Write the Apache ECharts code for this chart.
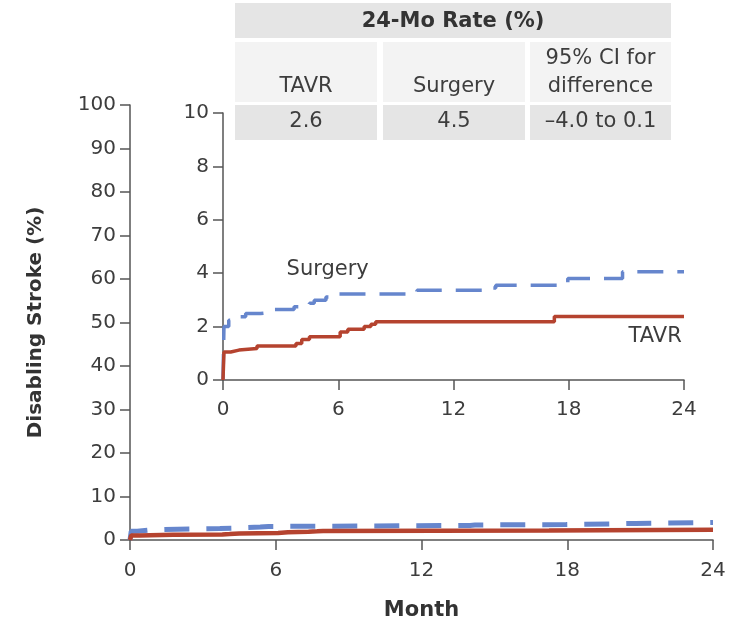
<!DOCTYPE html>
<html>
<head>
<meta charset="utf-8">
<script src="https://cdn.jsdelivr.net/npm/echarts@6/dist/echarts.min.js"></script>
<style>
  html, body { margin: 0; padding: 0; background: #ffffff; }
  #chart { width: 742px; height: 631px; }
</style>
</head>
<body>
<div id="chart"></div>
<script>
// step points (month, cumulative %)
const tavrMonths = [0, 0.05, 0.4, 0.83, 1.77, 3.8, 4.1, 4.5, 6.1, 6.5, 7.35, 7.7, 7.95, 17.25, 24];
const tavrRates = [0, 1.05, 1.12, 1.18, 1.27, 1.37, 1.52, 1.62, 1.8, 1.9, 2.0, 2.09, 2.18, 2.38, 2.38];
const surgeryMonths = [0, 0.05, 0.3, 0.72, 1.18, 1.95, 2.66, 3.7, 4.5, 4.75, 5.36, 5.7, 10.1, 14.0, 14.2, 17.95, 20.8, 24];
const surgeryRates = [0, 2.0, 2.24, 2.37, 2.49, 2.55, 2.64, 2.74, 2.87, 2.99, 3.11, 3.22, 3.36, 3.45, 3.55, 3.8, 4.05, 4.05];

const tableTitle = "24-Mo Rate (%)";
const tableHeaders = ["TAVR", "Surgery", "95% CI for\ndifference"];
const tableValues = ["2.6", "4.5", "\u20134.0 to 0.1"];

const FONT = "DejaVu Sans";
const TXT = "#3d3d3d";
const AXIS = "#555555";
const RED = "#b5432f";
const BLUE = "#6686cd";

const zip = (a, b) => a.map((x, i) => [x, b[i]]);
const tavrData = zip(tavrMonths, tavrRates);
const surgeryData = zip(surgeryMonths, surgeryRates);

let myChart = echarts.init(document.getElementById("chart"));

function axis(extra, margin) {
  return Object.assign({
    type: "value",
    axisLine: { show: true, lineStyle: { color: AXIS, width: 1.5 } },
    axisTick: { show: true, length: 10, lineStyle: { color: AXIS, width: 1.5 } },
    splitLine: { show: false },
    axisLabel: { color: TXT, fontSize: 20, fontFamily: FONT, margin: margin },
  }, extra);
}

// table cells (not data marks)
const colX = [235, 383, 530];
const colW = [142, 142, 141];
let graphics = [
  { type: "rect", shape: { x: 235, y: 3, width: 436, height: 35 }, style: { fill: "#e5e5e5" } },
];
for (let i = 0; i < 3; i++) {
  graphics.push({ type: "rect", shape: { x: colX[i], y: 42, width: colW[i], height: 60 }, style: { fill: "#f3f3f3" } });
  graphics.push({ type: "rect", shape: { x: colX[i], y: 105, width: colW[i], height: 35 }, style: { fill: "#e5e5e5" } });
  graphics.push({
    type: "text", x: colX[i] + colW[i] / 2, y: 100,
    style: { text: tableHeaders[i], fill: TXT, font: "21px '" + FONT + "'", align: "center", verticalAlign: "bottom", lineHeight: 27.5 },
  });
  graphics.push({
    type: "text", x: colX[i] + colW[i] / 2, y: 122,
    style: { text: tableValues[i], fill: TXT, font: "21px '" + FONT + "'", align: "center", verticalAlign: "middle" },
  });
}
graphics.push({
  type: "text", x: 453, y: 22,
  style: { text: tableTitle, fill: "#333333", font: "bold 21px '" + FONT + "'", align: "center", verticalAlign: "middle" },
});

const nameStyle = { color: "#333333", fontSize: 21, fontWeight: "bold", fontFamily: FONT };

let option = {
  animation: false,
  backgroundColor: "#ffffff",
  grid: [
    { left: 130, top: 105, width: 583, height: 435 },
    { left: 223, top: 113, width: 461, height: 267 },
  ],
  xAxis: [
    axis({ gridIndex: 0, min: 0, max: 24, interval: 6, name: "Month", nameLocation: "middle", nameGap: 60, nameTextStyle: nameStyle }, 21),
    axis({ gridIndex: 1, min: 0, max: 24, interval: 6 }, 20),
  ],
  yAxis: [
    axis({ gridIndex: 0, min: 0, max: 100, interval: 10, name: "Disabling Stroke (%)", nameLocation: "middle", nameGap: 84, nameRotate: 90,
      nameTextStyle: Object.assign({}, nameStyle, { fontSize: 20 }) }, 14),
    axis({ gridIndex: 1, min: 0, max: 10, interval: 2 }, 14),
  ],
  graphic: graphics,
  series: [
    {
      name: "Surgery", type: "line", xAxisIndex: 0, yAxisIndex: 0, step: "end",
      showSymbol: false, data: surgeryData,
      lineStyle: { color: BLUE, width: 5, type: [25, 17] },
    },
    {
      name: "TAVR", type: "line", xAxisIndex: 0, yAxisIndex: 0, step: "end",
      showSymbol: false, data: tavrData,
      lineStyle: { color: RED, width: 4.5 },
    },
    {
      name: "Surgery", type: "line", xAxisIndex: 1, yAxisIndex: 1, step: "end",
      showSymbol: false, data: surgeryData,
      lineStyle: { color: BLUE, width: 3.5, type: [26, 14] },
      markPoint: {
        symbolSize: 1, itemStyle: { color: "rgba(0,0,0,0)" },
        label: { show: true, position: "inside", color: TXT, fontSize: 21, fontFamily: FONT, formatter: "Surgery" },
        data: [{ coord: [5.45, 4.1] }],
      },
    },
    {
      name: "TAVR", type: "line", xAxisIndex: 1, yAxisIndex: 1, step: "end",
      showSymbol: false, data: tavrData,
      lineStyle: { color: RED, width: 3.5 },
      markPoint: {
        symbolSize: 1, itemStyle: { color: "rgba(0,0,0,0)" },
        label: { show: true, position: "inside", color: TXT, fontSize: 21, fontFamily: FONT, formatter: "TAVR" },
        data: [{ coord: [22.5, 1.6] }],
      },
    },
  ],
};

myChart.setOption(option);
</script>
</body>
</html>
